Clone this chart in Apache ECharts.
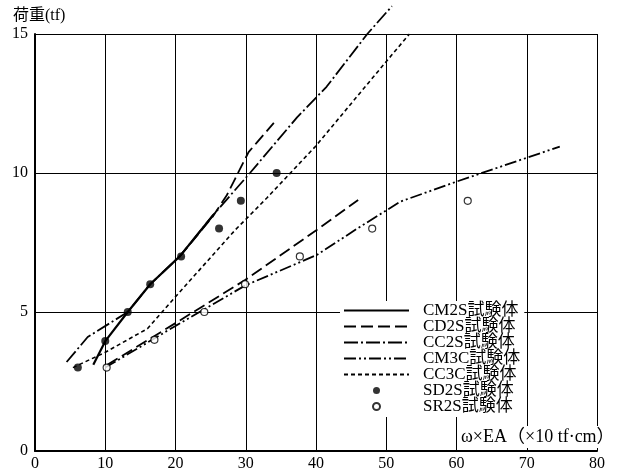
<!DOCTYPE html>
<html><head><meta charset="utf-8">
<script src="https://cdn.jsdelivr.net/npm/echarts@6/dist/echarts.min.js"></script>
<style>html,body{margin:0;padding:0;background:#fff}#c{width:632px;height:472px}</style>
</head><body><div id="c"></div>
<script>
const xTicks = [0, 10, 20, 30, 40, 50, 60, 70, 80];
const yTicks = [0, 5, 10, 15];
const xName = 'ω×EA（×10 tf·cm）';
const yName = '荷重(tf)';
const names = ['CM2S試験体', 'CD2S試験体', 'CC2S試験体', 'CM3C試験体', 'CC3C試験体', 'SD2S試験体', 'SR2S試験体'];

const cm2s = [[8.3,3.1],[10,3.95],[13.2,5.0],[16.4,6.0],[20.6,7.0],[25.4,8.5]];
const cd2sUpper = [[20.6,7.0],[25.2,8.4],[27.3,9.2],[28.5,9.8],[30.4,10.75],[31.6,11.1],[34.0,11.8]];
const cd2sLower = [[10.3,3.1],[20,4.6],[29.9,6.15],[40.1,7.95],[46.0,9.03]];
const cc2s = [[4.5,3.2],[7.5,4.1],[13.2,5.0],[16.4,6.0],[20.6,7.0],[25.4,8.5],[30.6,10.0],[37.3,12.0],[41.5,13.1],[47.3,15.0],[50.8,16.0]];
const cm3c = [[10.0,3.0],[20,4.5],[29.9,5.95],[40.1,7.05],[46.3,8.07],[52,8.97],[60,9.69],[74.7,10.95]];
const cc3c = [[5.4,3.0],[10,3.55],[16,4.4],[20,5.55],[28.5,7.95],[33,9.1],[39.9,10.95],[49.8,13.95],[53.3,15.0]];
const sd2s = [[6.1,3.0],[10.0,3.96],[13.2,5.0],[16.4,6.0],[20.8,7.0],[26.2,8.0],[29.3,9.0],[34.4,10.0]];
const sr2s = [[10.2,3.0],[17.0,4.0],[24.1,5.0],[29.9,6.0],[37.7,7.0],[48.0,8.0],[61.6,9.0]];

const FONT = '"Liberation Serif", "Noto Sans CJK JP", serif';
const lineS = (name, data, type, extra) => Object.assign({
  name, type: 'line', data, symbol: 'none', smooth: false,
  lineStyle: { color: '#000', width: 1.8, type },
  itemStyle: { color: '#000' }, z: 3
}, extra || {});
const hideDot = { opacity: 0 };

const chart = echarts.init(document.getElementById('c'));
chart.setOption({
  animation: false,
  backgroundColor: '#fff',
  grid: { left: 35, right: 35, top: 34, bottom: 21, containLabel: false },
  xAxis: {
    type: 'value', min: xTicks[0], max: xTicks[xTicks.length-1], interval: xTicks[1]-xTicks[0],
    axisLine: { show: true, lineStyle: { color: '#000', width: 2 } },
    axisTick: { show: false },
    axisLabel: { color: '#000', fontSize: 16, fontFamily: FONT, margin: 5 },
    splitLine: { show: true, lineStyle: { color: '#000', width: 1 } }
  },
  yAxis: {
    type: 'value', min: yTicks[0], max: yTicks[yTicks.length-1], interval: yTicks[1]-yTicks[0],
    name: yName, nameLocation: 'end', nameGap: 10,
    nameTextStyle: { color: '#000', fontSize: 16, fontFamily: FONT, align: 'left', padding: [0,0,0,-22] },
    axisLine: { show: true, lineStyle: { color: '#000', width: 2 } },
    axisTick: { show: false },
    axisLabel: { color: '#000', fontSize: 16, fontFamily: FONT, margin: 7 },
    splitLine: { show: true, lineStyle: { color: '#000', width: 1 } }
  },
  legend: {
    orient: 'vertical', left: 340, top: 301,
    backgroundColor: '#fff', padding: [1, 4, 2, 3],
    itemWidth: 65, itemHeight: 7, itemGap: -1,
    textStyle: { color: '#000', fontSize: 17, fontFamily: FONT, lineHeight: 14.7, padding: [0,0,0,9] },
    data: [
      { name: names[0], itemStyle: hideDot }, { name: names[1], itemStyle: hideDot },
      { name: names[2], itemStyle: hideDot }, { name: names[3], itemStyle: hideDot },
      { name: names[4], itemStyle: hideDot },
      { name: names[5], icon: 'circle' }, { name: names[6], icon: 'circle' }
    ]
  },
  graphic: [{
    type: 'text', left: 458, top: 426, z: 100,
    style: { text: xName, fill: '#000', font: '18px ' + FONT, backgroundColor: '#fff', padding: [2, 3, 2, 3] }
  }],
  series: [
    lineS(names[0], cm2s, 'solid', { lineStyle: { color: '#000', width: 2.2, type: 'solid' } }),
    lineS(names[1], cd2sUpper, [12, 5]),
    lineS(names[2], cc2s, [14, 3, 2, 3], { clip: false }),
    lineS(names[3], cm3c, [12, 3, 2, 3, 2, 3]),
    lineS(names[4], cc3c, [4, 3], { lineStyle: { color: '#000', width: 1.6, type: [4, 3] } }),
    lineS(names[1], cd2sLower, [12, 5]),
    { name: names[5], type: 'scatter', data: sd2s, symbol: 'circle', symbolSize: 8,
      itemStyle: { color: '#000' }, z: 5 },
    { name: names[6], type: 'scatter', data: sr2s, symbol: 'circle', symbolSize: 7,
      itemStyle: { color: '#fff', borderColor: '#000', borderWidth: 1.2 }, z: 5 }
  ]
});
</script></body></html>
